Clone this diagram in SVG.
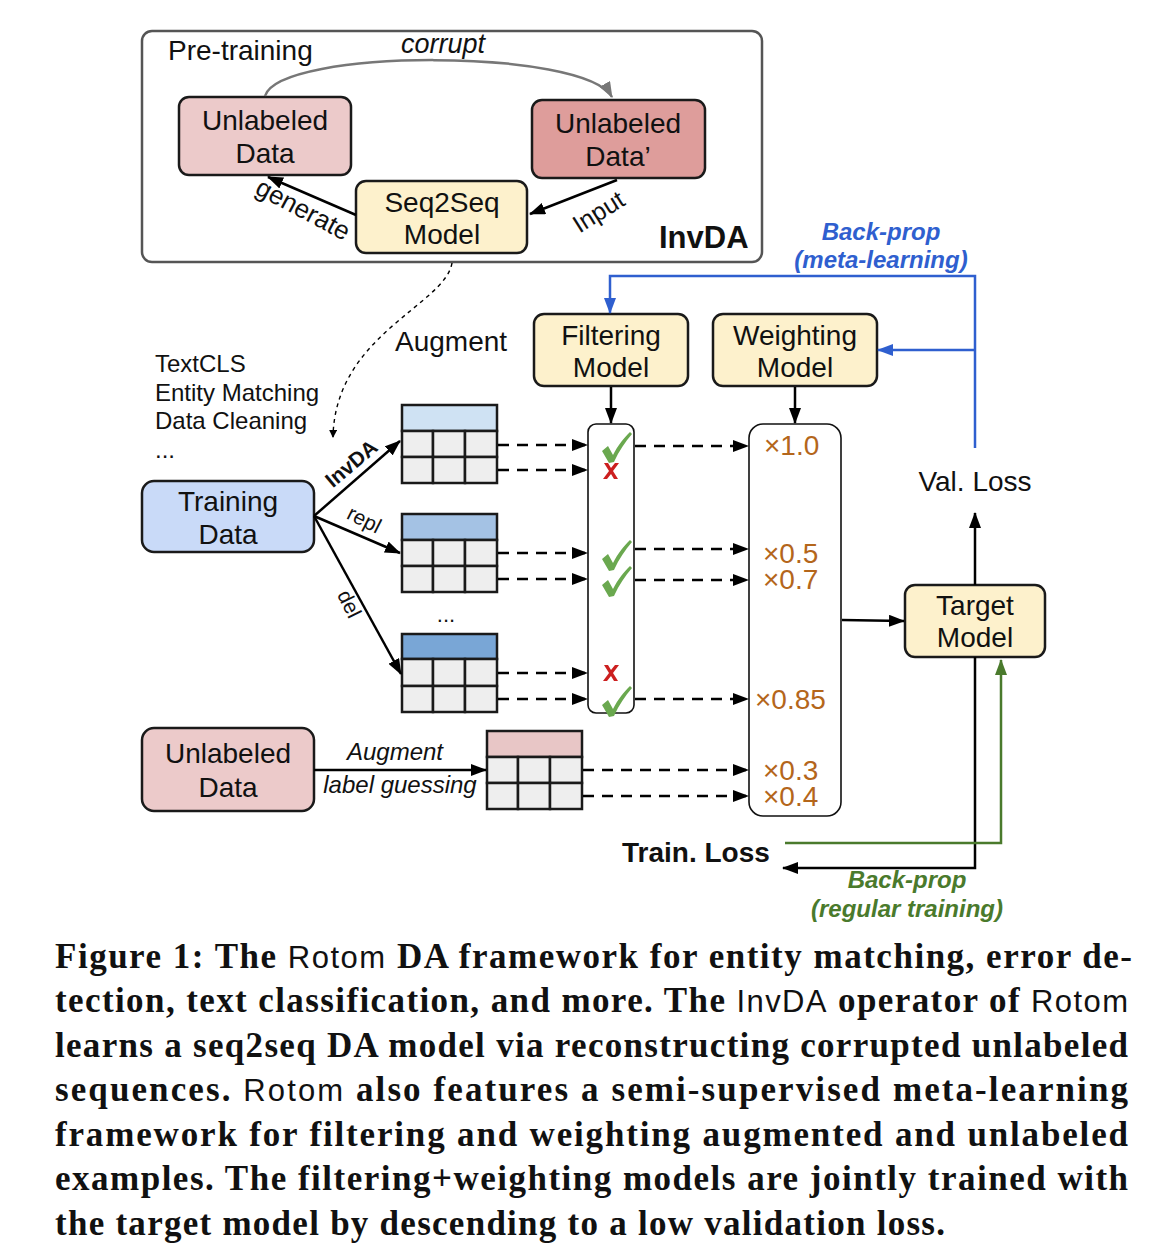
<svg xmlns="http://www.w3.org/2000/svg" width="1162" height="1260" viewBox="0 0 1162 1260">
<defs>
<style>
text{font-family:"Liberation Sans",Arial,sans-serif;fill:#111}
.lbl{font-size:28px;text-anchor:middle}
.box{stroke:#1a1a1a;stroke-width:2.5}
.cell{fill:#eeeeee;stroke:#1a1a1a;stroke-width:2.5}
.ln{stroke:#000;stroke-width:2.5;fill:none}
.dash{stroke:#000;stroke-width:2.5;fill:none;stroke-dasharray:11 8}
.w{font-size:28px;fill:#b4661b}
.cap{font-family:"Liberation Serif","Times New Roman",serif;font-weight:bold;font-size:35px}
.sans{font-family:"Liberation Sans",Arial,sans-serif;font-weight:normal;font-size:31px}
.chk{fill:#6aa84f}
.crs{fill:#cc1f1f}
.bl{font-size:24px;font-weight:bold;font-style:italic;fill:#2f5fcf;text-anchor:middle}
.gr{font-size:24px;font-weight:bold;font-style:italic;fill:#4a7a2c;text-anchor:middle}
</style>
<marker id="ah" markerWidth="16" markerHeight="12" refX="15" refY="6" orient="auto" markerUnits="userSpaceOnUse"><path d="M0,0 L16,6 L0,12 Z" fill="#000"/></marker>
<marker id="ahs" markerWidth="8" markerHeight="8" refX="7" refY="4" orient="auto" markerUnits="userSpaceOnUse"><path d="M0,0 L8,4 L0,8 Z" fill="#000"/></marker>
<marker id="ahg" markerWidth="16" markerHeight="12" refX="15" refY="6" orient="auto" markerUnits="userSpaceOnUse"><path d="M0,0 L16,6 L0,12 Z" fill="#777"/></marker>
<marker id="ahb" markerWidth="16" markerHeight="12" refX="15" refY="6" orient="auto" markerUnits="userSpaceOnUse"><path d="M0,0 L16,6 L0,12 Z" fill="#2f5fcf"/></marker>
<marker id="ahgr" markerWidth="16" markerHeight="12" refX="15" refY="6" orient="auto" markerUnits="userSpaceOnUse"><path d="M0,0 L16,6 L0,12 Z" fill="#4a7a2c"/></marker>
<path id="check" d="M0,0 L6,-5 L11,4 C16,-6 22,-13 28,-19 L30,-17 C23,-9 17,0 12,11 L7,12 Z"/>
<path id="cross" d="M-7,-8 L-3,-8 L0,-3 L4,-8 L8,-8 L2,0 L7,8 L3,8 L0,3 L-4,8 L-8,8 L-2,0 Z"/>
</defs>
<rect width="1162" height="1260" fill="#fff"/>

<g id="invda-frame">
<rect x="142" y="31" width="620" height="231" rx="10" fill="#fff" stroke="#555" stroke-width="2.5"/>
<text x="168" y="60" style="font-size:28px">Pre-training</text>
<text x="659" y="248" style="font-size:31px;font-weight:bold">InvDA</text>
</g>

<g id="node-unlabeled-top">
<rect class="box" x="179" y="97" width="172" height="78" rx="10" fill="#eccaca"/>
<text class="lbl" x="265" y="130">Unlabeled</text>
<text class="lbl" x="265" y="163">Data</text>
</g>
<g id="node-unlabeled-prime">
<rect class="box" x="532" y="100" width="173" height="78" rx="10" fill="#de9d9b"/>
<text class="lbl" x="618" y="133">Unlabeled</text>
<text class="lbl" x="618" y="166">Data’</text>
</g>
<g id="node-seq2seq">
<rect class="box" x="356" y="181" width="171" height="72" rx="10" fill="#fdf1cc"/>
<text class="lbl" x="442" y="212">Seq2Seq</text>
<text class="lbl" x="442" y="244">Model</text>
</g>

<g id="node-training">
<rect class="box" x="142" y="481" width="172" height="71" rx="12" fill="#c9daf8"/>
<text class="lbl" x="228" y="511">Training</text>
<text class="lbl" x="228" y="544">Data</text>
</g>
<g id="node-unlabeled-bottom">
<rect class="box" x="142" y="728" width="172" height="83" rx="12" fill="#eccaca"/>
<text class="lbl" x="228" y="763">Unlabeled</text>
<text class="lbl" x="228" y="797">Data</text>
</g>

<g id="node-filtering">
<rect class="box" x="534" y="314" width="154" height="72" rx="10" fill="#fdf1cc"/>
<text class="lbl" x="611" y="345">Filtering</text>
<text class="lbl" x="611" y="377">Model</text>
</g>
<g id="node-weighting">
<rect class="box" x="713" y="314" width="164" height="72" rx="10" fill="#fdf1cc"/>
<text class="lbl" x="795" y="345">Weighting</text>
<text class="lbl" x="795" y="377">Model</text>
</g>
<g id="node-target">
<rect class="box" x="905" y="585" width="140" height="72" rx="10" fill="#fdf1cc"/>
<text class="lbl" x="975" y="615">Target</text>
<text class="lbl" x="975" y="647">Model</text>
</g>

<g id="table-invda">
<rect class="box" x="402" y="405" width="95" height="26" fill="#cfe2f3"/>
<rect class="cell" x="402" y="431" width="31" height="26"/><rect class="cell" x="433" y="431" width="32" height="26"/><rect class="cell" x="465" y="431" width="32" height="26"/>
<rect class="cell" x="402" y="457" width="31" height="26"/><rect class="cell" x="433" y="457" width="32" height="26"/><rect class="cell" x="465" y="457" width="32" height="26"/>
</g>
<g id="table-repl">
<rect class="box" x="402" y="514" width="95" height="26" fill="#a4c2e4"/>
<rect class="cell" x="402" y="540" width="31" height="26"/><rect class="cell" x="433" y="540" width="32" height="26"/><rect class="cell" x="465" y="540" width="32" height="26"/>
<rect class="cell" x="402" y="566" width="31" height="26"/><rect class="cell" x="433" y="566" width="32" height="26"/><rect class="cell" x="465" y="566" width="32" height="26"/>
</g>
<text x="446" y="622" style="font-size:22px;text-anchor:middle">...</text>
<g id="table-del">
<rect class="box" x="402" y="634" width="95" height="25" fill="#79a6d6"/>
<rect class="cell" x="402" y="659" width="31" height="27"/><rect class="cell" x="433" y="659" width="32" height="27"/><rect class="cell" x="465" y="659" width="32" height="27"/>
<rect class="cell" x="402" y="686" width="31" height="26"/><rect class="cell" x="433" y="686" width="32" height="26"/><rect class="cell" x="465" y="686" width="32" height="26"/>
</g>
<g id="table-unlabeled">
<rect class="box" x="487" y="731" width="95" height="26" fill="#e8c6c6"/>
<rect class="cell" x="487" y="757" width="31" height="26"/><rect class="cell" x="518" y="757" width="32" height="26"/><rect class="cell" x="550" y="757" width="32" height="26"/>
<rect class="cell" x="487" y="783" width="31" height="26"/><rect class="cell" x="518" y="783" width="32" height="26"/><rect class="cell" x="550" y="783" width="32" height="26"/>
</g>

<g id="node-filter-column">
<rect x="588" y="424" width="46" height="289" rx="8" fill="#fff" stroke="#111" stroke-width="1.6"/>
<use href="#check" class="chk" x="602" y="451"/>
<use href="#cross" class="crs" x="611" y="471"/>
<use href="#check" class="chk" x="602" y="559"/>
<use href="#check" class="chk" x="602" y="585"/>
<use href="#cross" class="crs" x="611" y="673"/>
<use href="#check" class="chk" x="602" y="705"/>
</g>

<g id="node-weight-column">
<rect x="749" y="424" width="92" height="392" rx="14" fill="#fff" stroke="#111" stroke-width="1.6"/>
<text class="w" x="764" y="455">×1.0</text>
<text class="w" x="763" y="563">×0.5</text>
<text class="w" x="763" y="589">×0.7</text>
<text class="w" x="755" y="709">×0.85</text>
<text class="w" x="763" y="780">×0.3</text>
<text class="w" x="763" y="806">×0.4</text>
</g>

<g id="labels">
<text x="155" y="372" style="font-size:24px">TextCLS</text>
<text x="155" y="401" style="font-size:24px">Entity Matching</text>
<text x="155" y="429" style="font-size:24px">Data Cleaning</text>
<text x="155" y="458" style="font-size:24px">...</text>
<text x="395" y="351" style="font-size:28px">Augment</text>
<text x="975" y="491" style="font-size:28px;text-anchor:middle">Val. Loss</text>
<text x="622" y="862" style="font-size:28px;font-weight:bold">Train. Loss</text>
<text class="bl" x="881" y="240">Back-prop</text>
<text class="bl" x="881" y="268">(meta-learning)</text>
<text class="gr" x="907" y="888">Back-prop</text>
<text class="gr" x="907" y="917">(regular training)</text>
<text x="443" y="53" style="font-size:27px;font-style:italic;text-anchor:middle">corrupt</text>
<text transform="translate(299,217) rotate(28)" style="font-size:26px;text-anchor:middle">generate</text>
<text transform="translate(603,219) rotate(-32)" style="font-size:25px;text-anchor:middle">Input</text>
<text transform="translate(356,469) rotate(-40)" style="font-size:21px;font-weight:bold;text-anchor:middle">InvDA</text>
<text transform="translate(361,526) rotate(27)" style="font-size:21px;text-anchor:middle">repl</text>
<text transform="translate(343,607) rotate(64)" style="font-size:21px;text-anchor:middle">del</text>
<text x="395" y="760" style="font-size:24px;font-style:italic;text-anchor:middle">Augment</text>
<text x="400" y="793" style="font-size:24px;font-style:italic;text-anchor:middle">label guessing</text>
</g>

<g id="connectors">
<path d="M265,96 C280,48 585,48 612,97" fill="none" stroke="#777" stroke-width="2.5" marker-end="url(#ahg)"/>
<line class="ln" x1="356" y1="215" x2="268" y2="177" marker-end="url(#ah)"/>
<line class="ln" x1="617" y1="180" x2="530" y2="214" marker-end="url(#ah)"/>
<path d="M452,263 C445,305 335,335 333,437" fill="none" stroke="#000" stroke-width="1.4" stroke-dasharray="4 4" marker-end="url(#ahs)"/>
<line class="ln" x1="314" y1="516" x2="400" y2="441" marker-end="url(#ah)"/>
<line class="ln" x1="314" y1="516" x2="400" y2="553" marker-end="url(#ah)"/>
<line class="ln" x1="314" y1="516" x2="401" y2="674" marker-end="url(#ah)"/>
<line class="ln" x1="314" y1="770" x2="486" y2="770" marker-end="url(#ah)"/>
<line class="dash" x1="498" y1="445" x2="587" y2="445" marker-end="url(#ah)"/>
<line class="dash" x1="498" y1="470" x2="587" y2="470" marker-end="url(#ah)"/>
<line class="dash" x1="498" y1="553" x2="587" y2="553" marker-end="url(#ah)"/>
<line class="dash" x1="498" y1="579" x2="587" y2="579" marker-end="url(#ah)"/>
<line class="dash" x1="498" y1="673" x2="587" y2="673" marker-end="url(#ah)"/>
<line class="dash" x1="498" y1="699" x2="587" y2="699" marker-end="url(#ah)"/>
<line class="dash" x1="635" y1="446" x2="748" y2="446" marker-end="url(#ah)"/>
<line class="dash" x1="635" y1="549" x2="748" y2="549" marker-end="url(#ah)"/>
<line class="dash" x1="635" y1="580" x2="748" y2="580" marker-end="url(#ah)"/>
<line class="dash" x1="635" y1="699" x2="748" y2="699" marker-end="url(#ah)"/>
<line class="dash" x1="583" y1="770" x2="748" y2="770" marker-end="url(#ah)"/>
<line class="dash" x1="583" y1="796" x2="748" y2="796" marker-end="url(#ah)"/>
<line class="ln" x1="611" y1="387" x2="611" y2="423" marker-end="url(#ah)"/>
<line class="ln" x1="795" y1="387" x2="795" y2="423" marker-end="url(#ah)"/>
<line class="ln" x1="842" y1="620" x2="904" y2="621" marker-end="url(#ah)"/>
<line class="ln" x1="975" y1="585" x2="975" y2="513" marker-end="url(#ah)"/>
<path class="ln" d="M975,657 L975,868 L783,868" marker-end="url(#ah)"/>
<path d="M785,843 L1001,843 L1001,660" fill="none" stroke="#4a7a2c" stroke-width="2.5" marker-end="url(#ahgr)"/>
<path d="M975,448 L975,276 L610,276 L610,313" fill="none" stroke="#2f5fcf" stroke-width="2.5" marker-end="url(#ahb)"/>
<line x1="975" y1="350" x2="878" y2="350" stroke="#2f5fcf" stroke-width="2.5" marker-end="url(#ahb)"/>
</g>

<g id="caption">
<text class="cap" x="55" y="968" textLength="1077" lengthAdjust="spacing">Figure 1: The <tspan class="sans">Rotom</tspan> DA framework for entity matching, error de-</text>
<text class="cap" x="55" y="1012" textLength="1073" lengthAdjust="spacing">tection, text classification, and more. The <tspan class="sans">InvDA</tspan> operator of <tspan class="sans">Rotom</tspan></text>
<text class="cap" x="55" y="1057" textLength="1073" lengthAdjust="spacing">learns a seq2seq DA model via reconstructing corrupted unlabeled</text>
<text class="cap" x="55" y="1101" textLength="1073" lengthAdjust="spacing">sequences. <tspan class="sans">Rotom</tspan> also features a semi-supervised meta-learning</text>
<text class="cap" x="55" y="1146" textLength="1073" lengthAdjust="spacing">framework for filtering and weighting augmented and unlabeled</text>
<text class="cap" x="55" y="1190" textLength="1073" lengthAdjust="spacing">examples. The filtering+weighting models are jointly trained with</text>
<text class="cap" x="55" y="1235" textLength="890" lengthAdjust="spacing">the target model by descending to a low validation loss.</text>
</g>
</svg>
